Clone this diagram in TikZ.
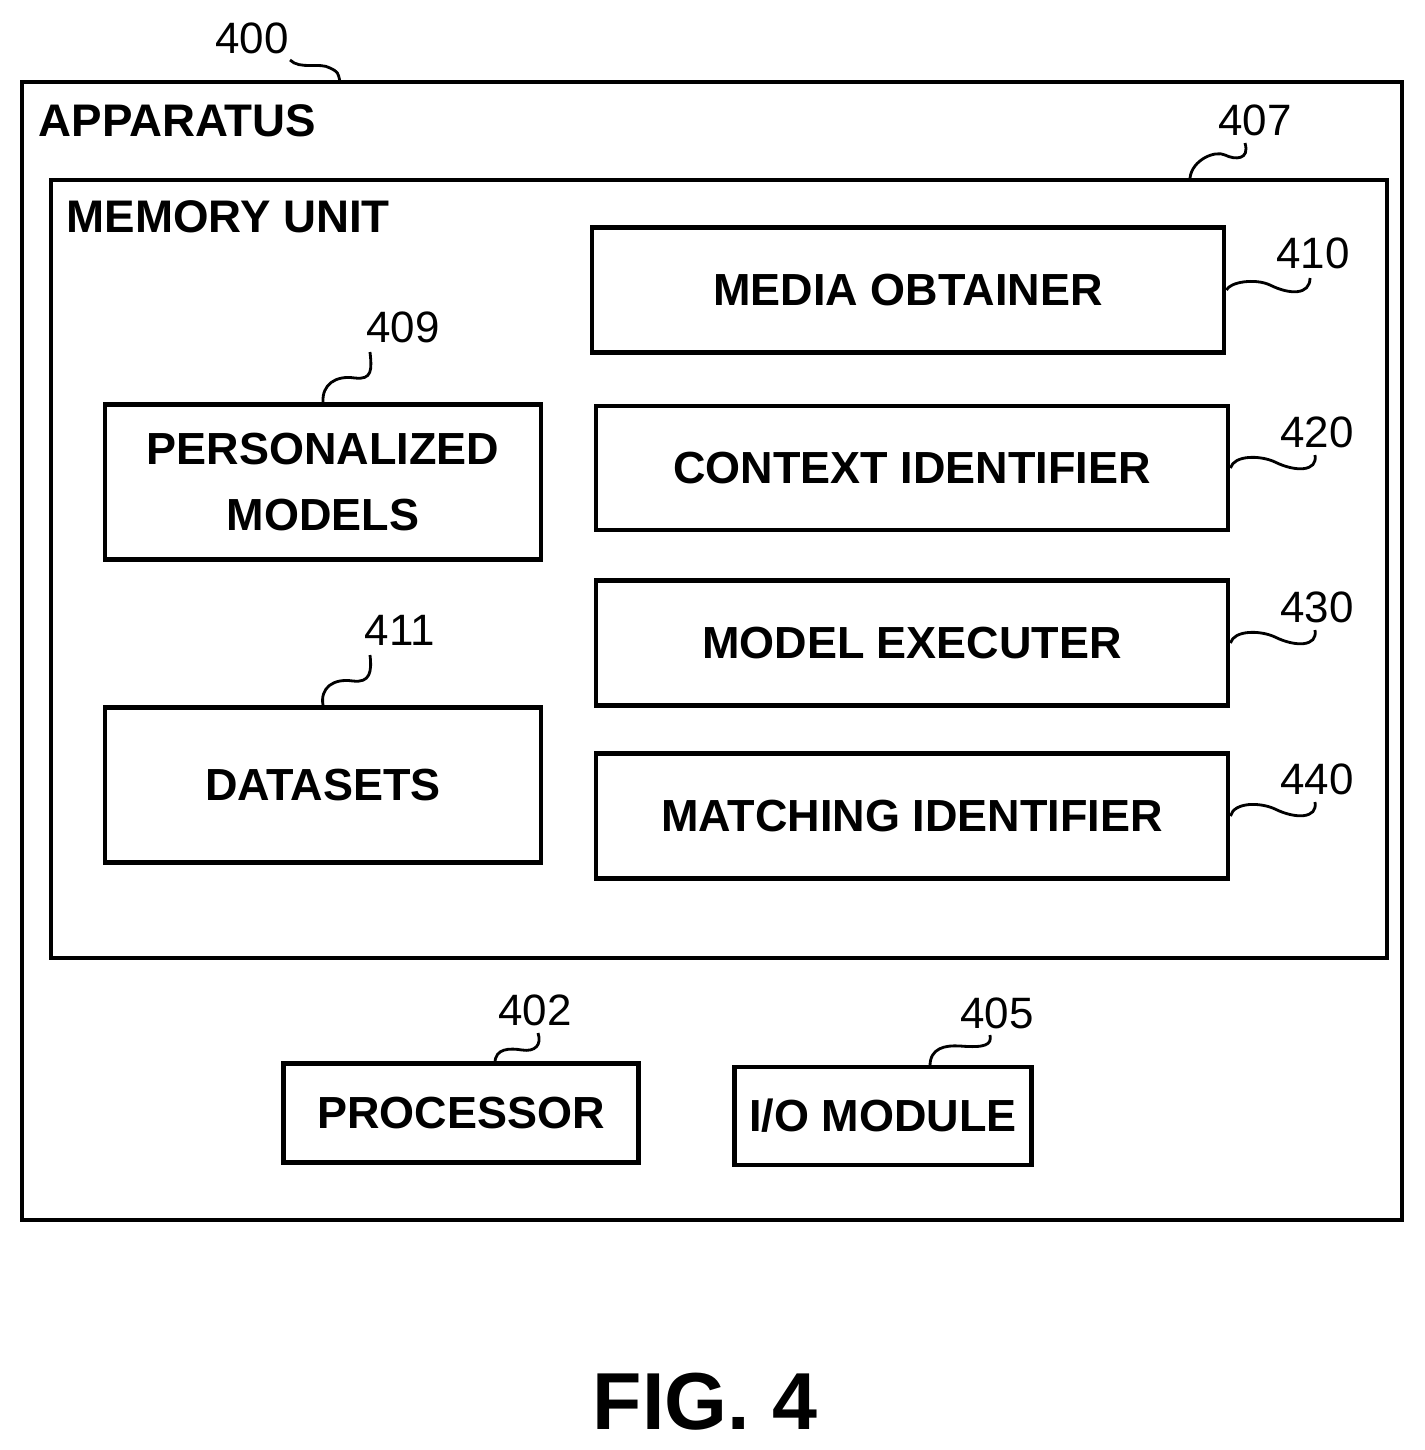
\documentclass[tikz,border=0pt]{standalone}
\usepackage{fontspec}
\setmainfont{Liberation Sans}
\usetikzlibrary{positioning}

\begin{document}
\begin{tikzpicture}[x=0.1mm,y=-0.1mm,
	box/.style={draw,line width=1.4pt,inner sep=0pt,font=\fontsize{12.8}{16}\selectfont\bfseries,align=center},
	num/.style={font=\fontsize{12.5}{15}\selectfont},
	lead/.style={line width=0.8pt}]
	
	\useasboundingbox (0,0) rectangle (1425,1450);
	
	% Frames
	\draw[line width=1.4pt] (22,82) rectangle (1402,1220);
	\node[anchor=west,inner sep=0pt,font=\fontsize{13}{15}\selectfont\bfseries] (app) at (38,121) {APPARATUS};
	\draw[line width=1.4pt] (51,180) rectangle (1387,958);
	\node[anchor=west,inner sep=0pt,font=\fontsize{13}{15}\selectfont\bfseries] (mem) at (66,217) {MEMORY UNIT};
	
	% Units
	\node[box,minimum width=6.32cm,minimum height=1.25cm] (obt) at (908,290) {MEDIA OBTAINER};
	\node[box,minimum width=6.32cm,minimum height=1.24cm] (ctx) at (912,468) {CONTEXT IDENTIFIER};
	\node[box,minimum width=6.32cm,minimum height=1.25cm] (exe) at (912,643) {MODEL EXECUTER};
	\node[box,minimum width=6.32cm,minimum height=1.25cm] (mat) at (912,816) {MATCHING IDENTIFIER};
	\node[box,minimum width=4.36cm,minimum height=1.55cm] (pers) at (323,482) {PERSONALIZED\\[3pt]MODELS};
	\node[box,minimum width=4.36cm,minimum height=1.55cm] (dat) at (323,785) {DATASETS};
	\node[box,minimum width=3.55cm,minimum height=0.99cm] (proc) at (461,1113) {PROCESSOR};
	\node[box,minimum width=2.97cm,minimum height=0.98cm] (io) at (883,1116) {I/O MODULE};
	
	% Reference numerals
	\node[num] (n400) at (252,38) {400};
	\node[num] (n407) at (1255,120) {407};
	\node[num] (n410) at (1313,253) {410};
	\node[num] (n420) at (1317,432) {420};
	\node[num] (n430) at (1317,607) {430};
	\node[num] (n440) at (1317,779) {440};
	\node[num] (n409) at (403,327) {409};
	\node[num] (n411) at (400,630) {411};
	\node[num] (n402) at (535,1010) {402};
	\node[num] (n405) at (997,1013) {405};
	
	% Leaders
	\draw[lead] (290,60) .. controls (300,70) and (320,62) .. (330,68) .. controls (338,72) .. (340,82);
	\draw[lead] (1190,178) .. controls (1192,160) and (1215,150) .. (1225,155) .. controls (1235,160) and (1250,160) .. (1245,143);
	\draw[lead] (obt.east) .. controls (1230,282) and (1255,278) .. (1270,285) .. controls (1290,295) and (1310,295) .. (1310,278);
	\draw[lead] (ctx.east) .. controls (1234,455) and (1260,455) .. (1275,462) .. controls (1295,472) and (1318,472) .. (1315,455);
	\draw[lead] (exe.east) .. controls (1234,630) and (1260,630) .. (1275,637) .. controls (1295,647) and (1318,647) .. (1315,630);
	\draw[lead] (mat.east) .. controls (1234,802) and (1260,802) .. (1275,809) .. controls (1295,819) and (1318,819) .. (1315,802);
	\draw[lead] (pers.north) .. controls (322,385) and (335,375) .. (355,378) .. controls (372,380) and (372,370) .. (370,352);
	\draw[lead] (dat.north) .. controls (320,688) and (333,678) .. (353,681) .. controls (370,683) and (372,672) .. (370,655);
	\draw[lead] (495,1063) .. controls (495,1048) and (510,1048) .. (522,1050) .. controls (535,1052) and (542,1045) .. (538,1033);
	\draw[lead] (930,1066) .. controls (930,1048) and (945,1045) .. (960,1046) .. controls (985,1048) and (992,1045) .. (990,1035);
	
	% Caption
	\node[font=\fontsize{23}{26}\selectfont\bfseries] (fig) at (705,1402) {FIG. 4};
	
\end{tikzpicture}
\end{document}
